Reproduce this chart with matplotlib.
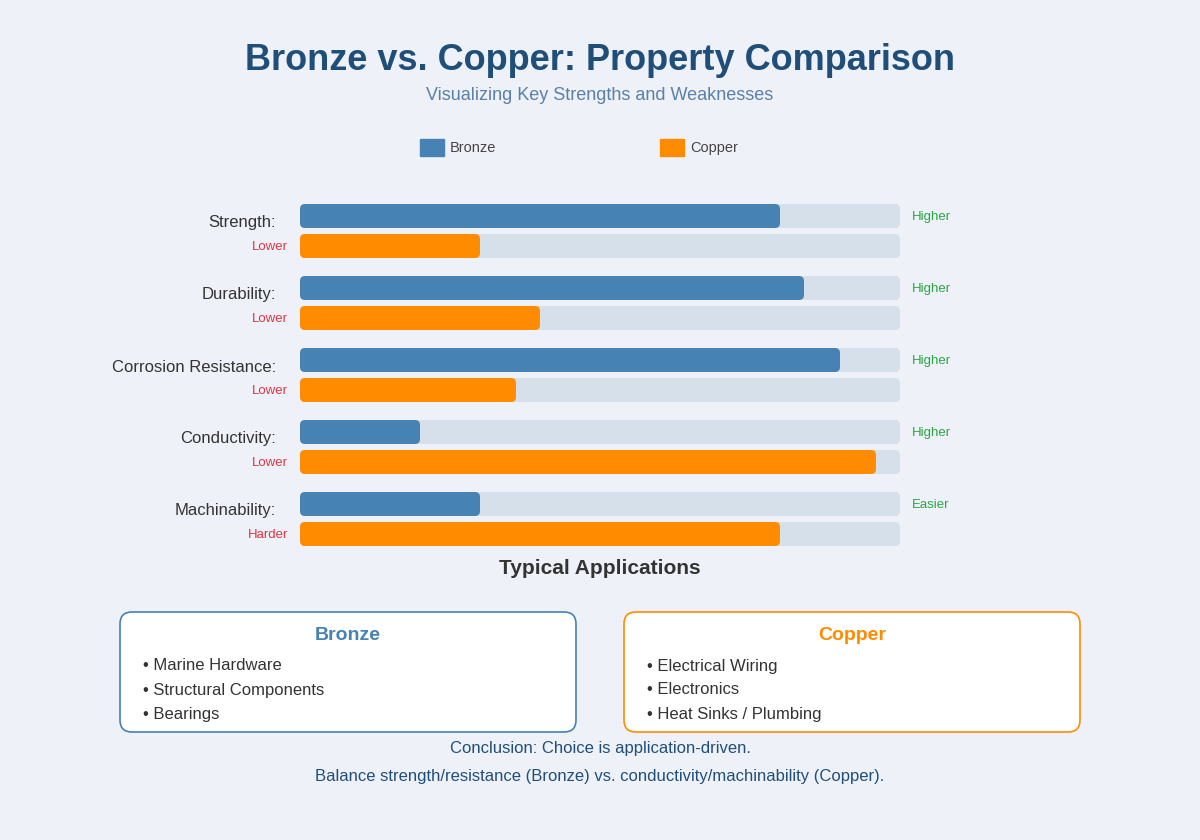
import matplotlib.pyplot as plt
from matplotlib.patches import FancyBboxPatch

categories = ["Strength:", "Durability:", "Corrosion Resistance:", "Conductivity:", "Machinability:"]
bronze = [0.80, 0.84, 0.90, 0.20, 0.30]
copper = [0.30, 0.40, 0.36, 0.96, 0.80]
bronze_notes = ["Higher", "Higher", "Higher", "Higher", "Easier"]
copper_notes = ["Lower", "Lower", "Lower", "Lower", "Harder"]
bronze_apps = ["Marine Hardware", "Structural Components", "Bearings"]
copper_apps = ["Electrical Wiring", "Electronics", "Heat Sinks / Plumbing"]

BG = "#eef2f8"
TRACK = "#d6e0ea"
BRONZE = "#4682b4"
COPPER = "#ff8c00"
GREEN = "#28a745"
RED = "#dc3545"
NAVY = "#1f4e79"

plt.rcParams["font.family"] = "Liberation Sans"
fig = plt.figure(figsize=(12, 8.4), dpi=100, facecolor=BG)
ax = fig.add_axes([0, 0, 1, 1])
ax.set_xlim(0, 1200)
ax.set_ylim(840, 0)
ax.axis("off")

ax.text(600, 60, "Bronze vs. Copper: Property Comparison", ha="center", va="center",
        fontsize=26, fontweight="bold", color=NAVY)
ax.text(600, 96, "Visualizing Key Strengths and Weaknesses", ha="center", va="center",
        fontsize=13, color="#5a7fa8")

# legend
ax.add_patch(plt.Rectangle((420, 139), 24, 17, color=BRONZE))
ax.text(450, 148, "Bronze", va="center", fontsize=10.5, color="#444")
ax.add_patch(plt.Rectangle((660, 139), 24, 17, color=COPPER))
ax.text(690, 148, "Copper", va="center", fontsize=10.5, color="#444")

x0, span, h = 300, 600, 24


def bar(y, frac, color):
    ax.add_patch(FancyBboxPatch((x0, y - h / 2), frac * span, h,
                                boxstyle="round,pad=0,rounding_size=5",
                                fc=color, ec="none"))


for i, cat in enumerate(categories):
    yb = 216 + 72 * i
    yc = yb + 30
    bar(yb, 1.0, TRACK)
    bar(yb, bronze[i], BRONZE)
    bar(yc, 1.0, TRACK)
    bar(yc, copper[i], COPPER)
    ax.text(276, yb + 7, cat, ha="right", va="center", fontsize=12, color="#333")
    ax.text(912, yb + 1, bronze_notes[i], ha="left", va="center", fontsize=9.5, color=GREEN)
    ax.text(288, yc + 1, copper_notes[i], ha="right", va="center", fontsize=9.5, color=RED)

ax.text(600, 568, "Typical Applications", ha="center", va="center",
        fontsize=15, fontweight="bold", color="#333")

for bx, title, items, color in [(120, "Bronze", bronze_apps, BRONZE),
                                (624, "Copper", copper_apps, COPPER)]:
    ax.add_patch(FancyBboxPatch((bx, 612), 456, 120,
                                boxstyle="round,pad=0,rounding_size=12",
                                fc="white", ec=color, lw=1.2))
    ax.text(bx + 228, 635, title, ha="center", va="center",
            fontsize=14, fontweight="bold", color=color)
    for j, item in enumerate(items):
        ax.text(bx + 23, 666 + 24 * j, "\u2022 " + item, va="center",
                fontsize=12, color="#333")

ax.text(600, 749, "Conclusion: Choice is application-driven.", ha="center", va="center",
        fontsize=12, color=NAVY)
ax.text(600, 777, "Balance strength/resistance (Bronze) vs. conductivity/machinability (Copper).",
        ha="center", va="center", fontsize=12, color=NAVY)

fig.savefig("out.png", dpi=100, facecolor=BG)
